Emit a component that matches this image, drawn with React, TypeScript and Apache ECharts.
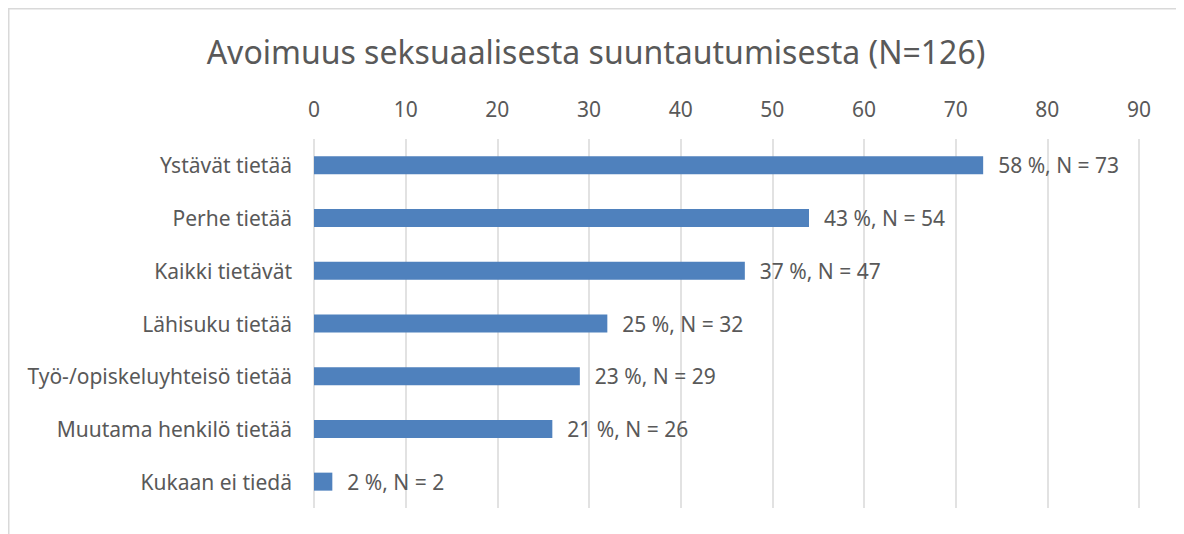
import React, { useEffect, useRef } from "react";
import * as echarts from "echarts";

const categories = [
  "Ystävät tietää",
  "Perhe tietää",
  "Kaikki tietävät",
  "Lähisuku tietää",
  "Työ-/opiskeluyhteisö tietää",
  "Muutama henkilö tietää",
  "Kukaan ei tiedä",
];
const counts = [73, 54, 47, 32, 29, 26, 2];
const percents = [58, 43, 37, 25, 23, 21, 2];
const xTicks = [0, 10, 20, 30, 40, 50, 60, 70, 80, 90];

const FONT = "'Noto Sans', sans-serif";
const TEXT = "#595959";

export default function App() {
  const ref = useRef<HTMLDivElement>(null);
  useEffect(() => {
    if (!ref.current) return;
    const chart = echarts.init(ref.current, undefined, { renderer: "svg" });
    chart.setOption({
      animation: false,
      backgroundColor: "#fff",
      textStyle: { fontFamily: FONT },
      title: {
        text: "Avoimuus seksuaalisesta suuntautumisesta (N=126)",
        left: "center",
        top: 22,
        textStyle: { fontFamily: FONT, fontSize: 32, fontWeight: "normal", color: TEXT },
      },
      graphic: [
        {
          type: "rect",
          shape: { x: 0.75, y: 0.75, width: 1171, height: 700 },
          style: { fill: "none", stroke: "#d9d9d9", lineWidth: 1.5 },
          silent: true,
        },
      ],
      grid: { left: 306, right: 45, top: 131, bottom: 26, containLabel: false },
      xAxis: {
        type: "value",
        position: "top",
        min: xTicks[0],
        max: xTicks[xTicks.length - 1],
        interval: 10,
        axisLine: { show: false },
        axisTick: { show: false },
        axisLabel: { color: TEXT, fontSize: 21, fontFamily: FONT, margin: 20 },
        splitLine: { show: true, lineStyle: { color: "#d9d9d9", width: 1.5 } },
      },
      yAxis: {
        type: "category",
        inverse: true,
        data: categories,
        axisLine: { show: false },
        axisTick: { show: false },
        axisLabel: { color: TEXT, fontSize: 21, fontFamily: FONT, margin: 22 },
      },
      series: [
        {
          type: "bar",
          data: counts,
          barWidth: 18,
          itemStyle: { color: "#4f81bd" },
          label: {
            show: true,
            position: "right",
            distance: 15,
            color: TEXT,
            fontSize: 21,
            fontFamily: FONT,
            formatter: (p: any) => `${percents[p.dataIndex]} %, N = ${counts[p.dataIndex]}`,
          },
        },
      ],
    });
    return () => chart.dispose();
  }, []);
  return <div ref={ref} style={{ width: 1176, height: 526 }} />;
}
